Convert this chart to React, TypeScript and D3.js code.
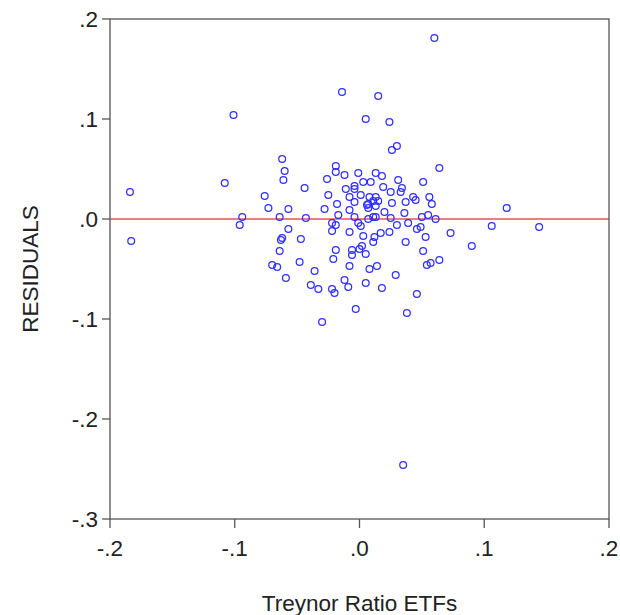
import React from "react";
import * as d3 from "d3";

// Treynor ratio of each ETF (x) against the regression residual (y)
const treynor: number[] = [
  0.060, -0.014, 0.015, -0.101, 0.005, 0.024, 0.030, 0.026, 0.064, -0.184,
  -0.183, -0.108, -0.062, -0.060, -0.061, -0.076, -0.073, -0.057, -0.044, -0.026,
  -0.019, -0.019, -0.012, -0.001, -0.011, -0.004, -0.008, -0.004, 0.001, -0.028,
  -0.018, -0.017, -0.008, -0.094, -0.096, -0.064, -0.043, -0.057, -0.062, -0.063,
  -0.047, -0.064, -0.048, -0.070, -0.066, -0.059, -0.036, -0.039, -0.033, -0.022,
  -0.020, -0.012, -0.009, -0.003, -0.030, -0.022, -0.019, -0.022, -0.008, -0.004,
  -0.001, -0.019, -0.021, -0.006, -0.006, -0.008, 0.000, 0.013, 0.018, 0.009,
  0.031, 0.051, 0.003, -0.004, 0.019, 0.034, 0.033, 0.025, 0.008, 0.013,
  0.011, 0.015, 0.007, 0.013, 0.026, 0.037, 0.043, 0.045, 0.056, 0.058,
  0.020, 0.036, 0.050, 0.055, 0.061, 0.011, 0.013, 0.025, 0.006, 0.007,
  0.118, 0.039, 0.007, 0.001, 0.003, 0.012, 0.017, 0.024, 0.030, 0.046,
  0.049, 0.053, 0.073, 0.106, 0.144, 0.011, 0.002, 0.005, 0.037, 0.051,
  0.090, 0.008, 0.014, 0.029, 0.054, 0.057, 0.064, 0.005, 0.018, 0.046,
  0.038, 0.035, -0.025,
];

const residuals: number[] = [
  0.181, 0.127, 0.123, 0.104, 0.100, 0.097, 0.073, 0.069, 0.051, 0.027,
  -0.022, 0.036, 0.060, 0.048, 0.039, 0.023, 0.011, 0.010, 0.031, 0.040,
  0.053, 0.047, 0.044, 0.046, 0.030, 0.033, 0.022, 0.017, 0.024, 0.010,
  0.015, 0.004, 0.009, 0.002, -0.006, 0.002, 0.001, -0.010, -0.019, -0.021,
  -0.020, -0.032, -0.043, -0.046, -0.048, -0.059, -0.052, -0.066, -0.070, -0.070,
  -0.074, -0.061, -0.068, -0.090, -0.103, -0.004, -0.006, -0.012, -0.013, 0.002,
  -0.004, -0.031, -0.040, -0.031, -0.036, -0.047, -0.030, 0.046, 0.043, 0.037,
  0.039, 0.037, 0.037, 0.030, 0.032, 0.031, 0.027, 0.027, 0.022, 0.022,
  0.018, 0.018, 0.015, 0.013, 0.016, 0.017, 0.022, 0.019, 0.022, 0.015,
  0.007, 0.006, 0.002, 0.004, 0.000, 0.002, 0.002, 0.001, 0.014, 0.011,
  0.011, -0.004, 0.000, -0.007, -0.017, -0.018, -0.014, -0.013, -0.006, -0.010,
  -0.008, -0.018, -0.014, -0.007, -0.008, -0.023, -0.027, -0.035, -0.023, -0.032,
  -0.027, -0.050, -0.047, -0.056, -0.046, -0.044, -0.041, -0.064, -0.069, -0.075,
  -0.094, -0.246, 0.024,
];

const xTicks: number[] = [-0.2, -0.1, 0.0, 0.1, 0.2];
const yTicks: number[] = [0.2, 0.1, 0.0, -0.1, -0.2, -0.3];
const xTitle = "Treynor Ratio ETFs";
const yTitle = "RESIDUALS";

const W = 620;
const H = 615;
const left = 110;
const right = 609;
const top = 19;
const bottom = 519;
const fontSize = 22.5;

// EViews-style tick text: ".1", "-.2", ".0"
const fmt = (v: number) => {
  const s = v.toFixed(1);
  return s.replace(/^(-?)0\./, "$1.");
};

export default function App() {
  const x = d3.scaleLinear().domain([-0.2, 0.2]).range([left, right]);
  const y = d3.scaleLinear().domain([-0.3, 0.2]).range([bottom, top]);
  const points = d3.zip(treynor, residuals);
  const font = "'Liberation Sans', Arial, sans-serif";
  const axisColor = "#555";
  const textColor = "#222";

  return (
    <svg
      width={W}
      height={H}
      style={{ position: "absolute", left: 0, top: 0, background: "#fff" }}
      fontFamily={font}
    >
      {/* zero reference line */}
      <line x1={left} x2={right} y1={y(0)} y2={y(0)} stroke="#d40000" strokeWidth={1} />

      {points.map(([tx, r], i) => (
        <circle
          key={i}
          cx={x(tx)}
          cy={y(r)}
          r={3.4}
          fill="none"
          stroke="#2f2fff"
          strokeWidth={1.25}
        />
      ))}

      {/* frame */}
      <rect
        x={left}
        y={top}
        width={right - left}
        height={bottom - top}
        fill="none"
        stroke={axisColor}
        strokeWidth={1.3}
      />

      {/* y axis ticks and labels */}
      {yTicks.map((t) => (
        <g key={`y${t}`}>
          <line x1={left - 8} x2={left} y1={y(t)} y2={y(t)} stroke={axisColor} strokeWidth={1.3} />
          <text
            x={left - 12}
            y={y(t)}
            dy="0.36em"
            textAnchor="end"
            fontSize={fontSize}
            fill={textColor}
          >
            {fmt(t)}
          </text>
        </g>
      ))}

      {/* x axis ticks and labels */}
      {xTicks.map((t) => (
        <g key={`x${t}`}>
          <line x1={x(t)} x2={x(t)} y1={bottom} y2={bottom + 9} stroke={axisColor} strokeWidth={1.3} />
          <text
            x={x(t)}
            y={bottom + 37}
            textAnchor="middle"
            fontSize={fontSize}
            fill={textColor}
          >
            {fmt(t)}
          </text>
        </g>
      ))}

      <text
        x={(left + right) / 2}
        y={611}
        textAnchor="middle"
        fontSize={fontSize}
        fill={textColor}
      >
        {xTitle}
      </text>
      <text
        transform={`translate(38, ${(top + bottom) / 2}) rotate(-90)`}
        textAnchor="middle"
        fontSize={fontSize}
        fill={textColor}
      >
        {yTitle}
      </text>
    </svg>
  );
}
